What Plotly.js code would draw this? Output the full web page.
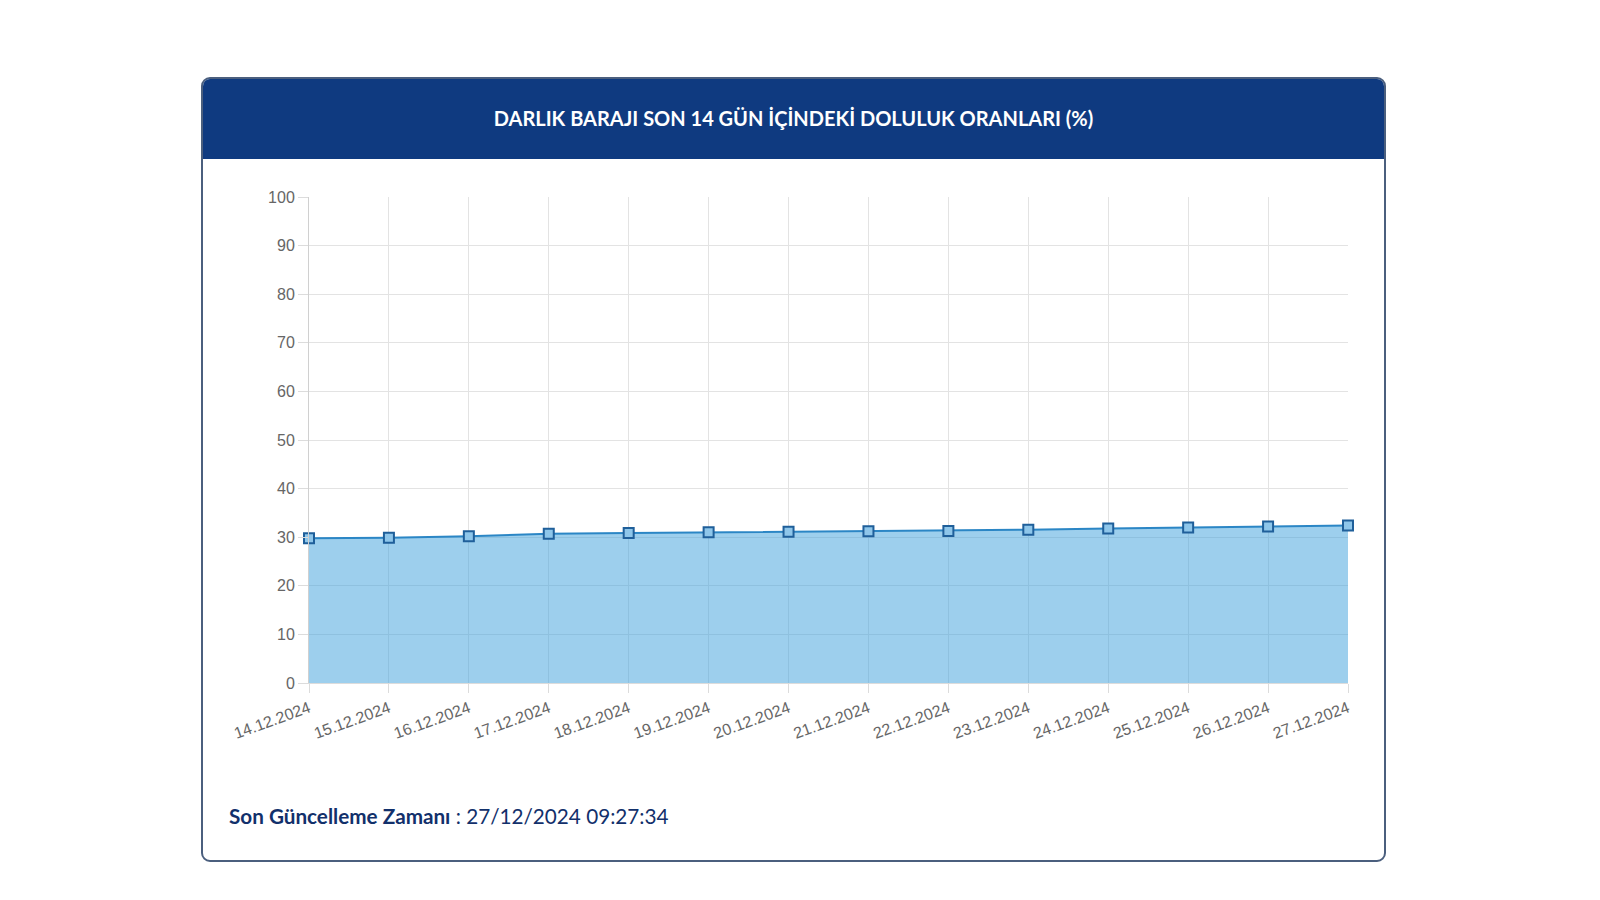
<!DOCTYPE html>
<html>
<head>
<meta charset="utf-8">
<script src="https://cdn.plot.ly/plotly-3.0.1.min.js"></script>
<style>
  html, body { margin: 0; padding: 0; background: #fff; }
  body { width: 1600px; height: 900px; position: relative; overflow: hidden; }
  #card {
    position: absolute; left: 201px; top: 77px; width: 1181px; height: 781px;
    border: 2px solid #4b5f7e; border-radius: 9px; background: #fff; overflow: hidden;
  }
  #head {
    height: 80px; background: #0f3a80; color: #fff;
    font-family: Lato, sans-serif; font-weight: 700; font-size: 20px;
    display: flex; align-items: center; justify-content: center;
    padding-bottom: 3px; box-sizing: border-box;
  }
  #foot {
    position: absolute; left: 26px; top: 725px;
    font-family: Lato, sans-serif; font-size: 20.7px; color: #12306b;
  }
  #foot b { font-weight: 700; }
  #chart { position: absolute; left: 0; top: 0; width: 1600px; height: 900px; }
</style>
</head>
<body>
<div id="card">
  <div id="head">DARLIK BARAJI SON 14 GÜN İÇİNDEKİ DOLULUK ORANLARI (%)</div>
  <div id="foot"><b>Son Güncelleme Zamanı</b> : 27/12/2024 09:27:34</div>
</div>
<div id="chart"></div>
<script>
let dates = ["14.12.2024","15.12.2024","16.12.2024","17.12.2024","18.12.2024","19.12.2024","20.12.2024",
             "21.12.2024","22.12.2024","23.12.2024","24.12.2024","25.12.2024","26.12.2024","27.12.2024"];
let doluluk = [29.8, 29.9, 30.2, 30.7, 30.85, 31.0, 31.1, 31.2, 31.3, 31.55, 31.8, 32.0, 32.2, 32.4];
let yTicks = [0, 10, 20, 30, 40, 50, 60, 70, 80, 90, 100];

let tickFont = {family: "Liberation Sans, Arial, sans-serif", size: 16, color: "#666"};

let data = [{
  x: dates, y: doluluk, type: "scatter", mode: "lines+markers",
  fill: "tozeroy", fillcolor: "rgba(60,160,220,0.5)",
  line: {color: "#2b86c5", width: 2},
  marker: {symbol: "square", size: 10, color: "#8ec6ea", line: {color: "#1f5f9a", width: 2}},
  cliponaxis: false, hoverinfo: "x+y"
}];

let layout = {
  width: 1600, height: 900,
  margin: {l: 309, r: 252, t: 197, b: 217},
  paper_bgcolor: "rgba(0,0,0,0)", plot_bgcolor: "rgba(0,0,0,0)",
  showlegend: false,
  xaxis: {
    type: "category", range: [0, dates.length - 1],
    showgrid: true, gridcolor: "#e3e3e3", gridwidth: 1,
    showline: true, linecolor: "#dcdcdc", linewidth: 1,
    ticks: "outside", ticklen: 9, tickcolor: "#dcdcdc",
    tickangle: -20, tickfont: tickFont, zeroline: false
  },
  yaxis: {
    range: [0, 100], tickvals: yTicks, ticktext: yTicks.map(String),
    showgrid: true, gridcolor: "#e3e3e3", gridwidth: 1,
    showline: true, linecolor: "#d0d0d0", linewidth: 1,
    ticks: "outside", ticklen: 10, tickcolor: "#dcdcdc",
    tickfont: tickFont, zeroline: false
  }
};

Plotly.newPlot("chart", data, layout, {displayModeBar: false, staticPlot: true});
</script>
</body>
</html>
